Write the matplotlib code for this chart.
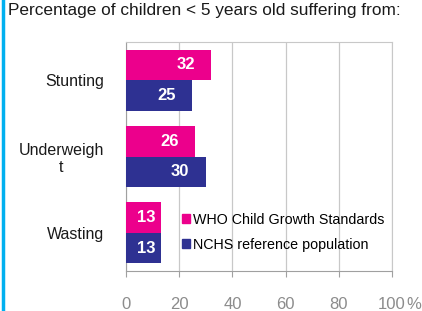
import matplotlib.pyplot as plt
from matplotlib.patches import Patch
from matplotlib.lines import Line2D

plt.rcParams['font.family'] = ['Liberation Sans', 'DejaVu Sans']

categories = ['Stunting', 'Underweigh\nt', 'Wasting']
who_vals = [32, 26, 13]
nchs_vals = [25, 30, 13]
xticks = [0, 20, 40, 60, 80, 100]
xtick_labels = ['0', '20', '40', '60', '80', '100']

pink = '#EC008C'
navy = '#2E3192'

fig = plt.figure(figsize=(4.22, 3.11), dpi=100)
ax = fig.add_axes([126 / 422, 1 - 271 / 311, 266 / 422, 229 / 311])

ypos = list(range(len(categories)))
h = 0.4
ax.barh([y - h / 2 for y in ypos], who_vals, height=h, color=pink, zorder=3)
ax.barh([y + h / 2 for y in ypos], nchs_vals, height=h, color=navy, zorder=3)


def label_x(v):
    # label sits inside the end of the bar, centred if the bar is short
    return max(v - 9.6, v / 2 + 1)


for y, w, n in zip(ypos, who_vals, nchs_vals):
    ax.text(label_x(w), y - h / 2, str(w), color='white', fontsize=12, fontweight='bold',
            ha='center', va='center', zorder=4)
    ax.text(label_x(n), y + h / 2, str(n), color='white', fontsize=12, fontweight='bold',
            ha='center', va='center', zorder=4)

ax.set_xlim(0, 100)
ax.set_ylim(2.5, -0.5)
ax.set_yticks(ypos)
ax.set_yticklabels(categories, fontsize=11.5, color='#1a1a1a')
ax.tick_params(axis='y', length=0, pad=16)
for lbl in ax.get_yticklabels():
    lbl.set_multialignment('center')

ax.set_xticks(xticks)
ax.set_xticklabels(xtick_labels, fontsize=12, color='#8c8c8c')
ax.tick_params(axis='x', length=4.3, color='#a0a0a0', pad=14.5)
ax.grid(axis='x', color='#c8c8c8', linewidth=0.9, zorder=0)
ax.annotate('%', xy=(100, 0), xycoords=('data', 'axes fraction'),
            xytext=(10, -18.8), textcoords='offset points', fontsize=12,
            color='#8c8c8c', ha='left', va='top', annotation_clip=False)

for side in ['top', 'right']:
    ax.spines[side].set_color('#c8c8c8')
for side in ['left', 'bottom']:
    ax.spines[side].set_color('#a0a0a0')

handles = [Patch(color=pink), Patch(color=navy)]
ax.legend(handles, ['WHO Child Growth Standards', 'NCHS reference population'],
          loc='lower left', bbox_to_anchor=(0.19, 0.06), frameon=False,
          fontsize=10.3, handlelength=0.55, handleheight=0.55, handletextpad=0.2,
          labelspacing=0.75, borderaxespad=0)

fig.text(8 / 422, 1 - 11 / 311, 'Percentage of children < 5 years old suffering from:',
         fontsize=12.4, ha='left', va='center', color='#1a1a1a')
fig.add_artist(Line2D([2.5 / 422, 2.5 / 422], [0, 1], color='#00B0F0', linewidth=2.5))

fig.savefig('out.png', dpi=100)
